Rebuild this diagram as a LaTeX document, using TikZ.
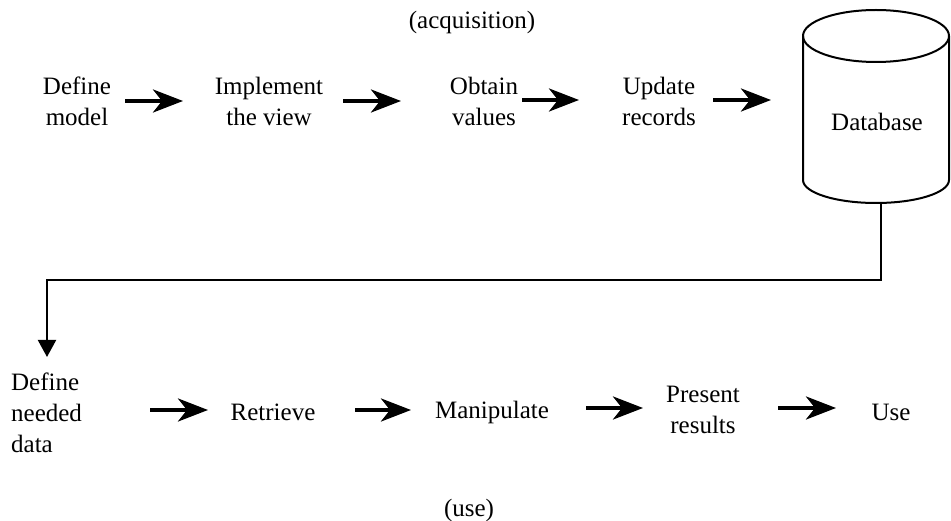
\documentclass[tikz,border=0pt]{standalone}
\usepackage{fontspec}
\setmainfont{Liberation Serif}
\usetikzlibrary{arrows.meta}
\begin{document}
\begin{tikzpicture}[x=1pt,y=-1pt,
  lbl/.style={align=center,inner sep=0pt,font=\fontsize{25}{31}\selectfont},
  flow/.style={line width=4pt,-{Stealth[length=30pt,width=23pt,inset=9pt]}},
  conn/.style={line width=2pt,-{Triangle[length=17pt,width=18pt]}},
  cyl/.style={line width=2pt}]
\useasboundingbox (0,0) rectangle (951,521);
\fill[white] (0,0) rectangle (951,521);
% titles
\node[lbl] (acq) at (472,22) {(acquisition)};
\node[lbl] (usetitle) at (469,510) {(use)};
% top row
\node[lbl] (dm) at (77,101) {Define\\model};
\node[lbl] (iv) at (269,101) {Implement\\the view};
\node[lbl] (ov) at (484,101) {Obtain\\values};
\node[lbl] (ur) at (659,101) {Update\\records};
% database cylinder
\draw[cyl] (803,36) arc[start angle=180,end angle=360,x radius=73,y radius=26]
           arc[start angle=0,end angle=180,x radius=73,y radius=26];
\draw[cyl] (803,36) -- (803,180) arc[start angle=180,end angle=0,x radius=73,y radius=23] -- (949,36);
\node[lbl] (db) at (877,122) {Database};
\coordinate (dbbot) at (881,203);
% top arrows
\coordinate (a1s) at (125,101); \coordinate (a1e) at (183,101);
\draw[flow] (a1s) -- (a1e);
\coordinate (a2s) at (343,101); \coordinate (a2e) at (401,101);
\draw[flow] (a2s) -- (a2e);
\coordinate (a3s) at (522,100); \coordinate (a3e) at (579,100);
\draw[flow] (a3s) -- (a3e);
\coordinate (a4s) at (713,100); \coordinate (a4e) at (771,100);
\draw[flow] (a4s) -- (a4e);
% bottom row
\node[lbl,align=left,anchor=west] (dnd) at (11,413) {Define\\needed\\data};
\node[lbl] (ret) at (273,412) {Retrieve};
\node[lbl] (man) at (492,412) {Manipulate};
\node[lbl] (pr) at (703,410) {Present\\results};
\node[lbl] (use) at (891,412) {Use};
\coordinate (b1s) at (150,410); \coordinate (b1e) at (208,410);
\draw[flow] (b1s) -- (b1e);
\coordinate (b2s) at (355,410); \coordinate (b2e) at (411,410);
\draw[flow] (b2s) -- (b2e);
\coordinate (b3s) at (586,408); \coordinate (b3e) at (643,408);
\draw[flow] (b3s) -- (b3e);
\coordinate (b4s) at (778,408); \coordinate (b4e) at (836,408);
\draw[flow] (b4s) -- (b4e);
% connector from database to define needed data
\coordinate (dtip) at (47,357);
\draw[conn] (dbbot) -- (881,280) -- (47,280) -- (dtip);
\end{tikzpicture}
\end{document}
